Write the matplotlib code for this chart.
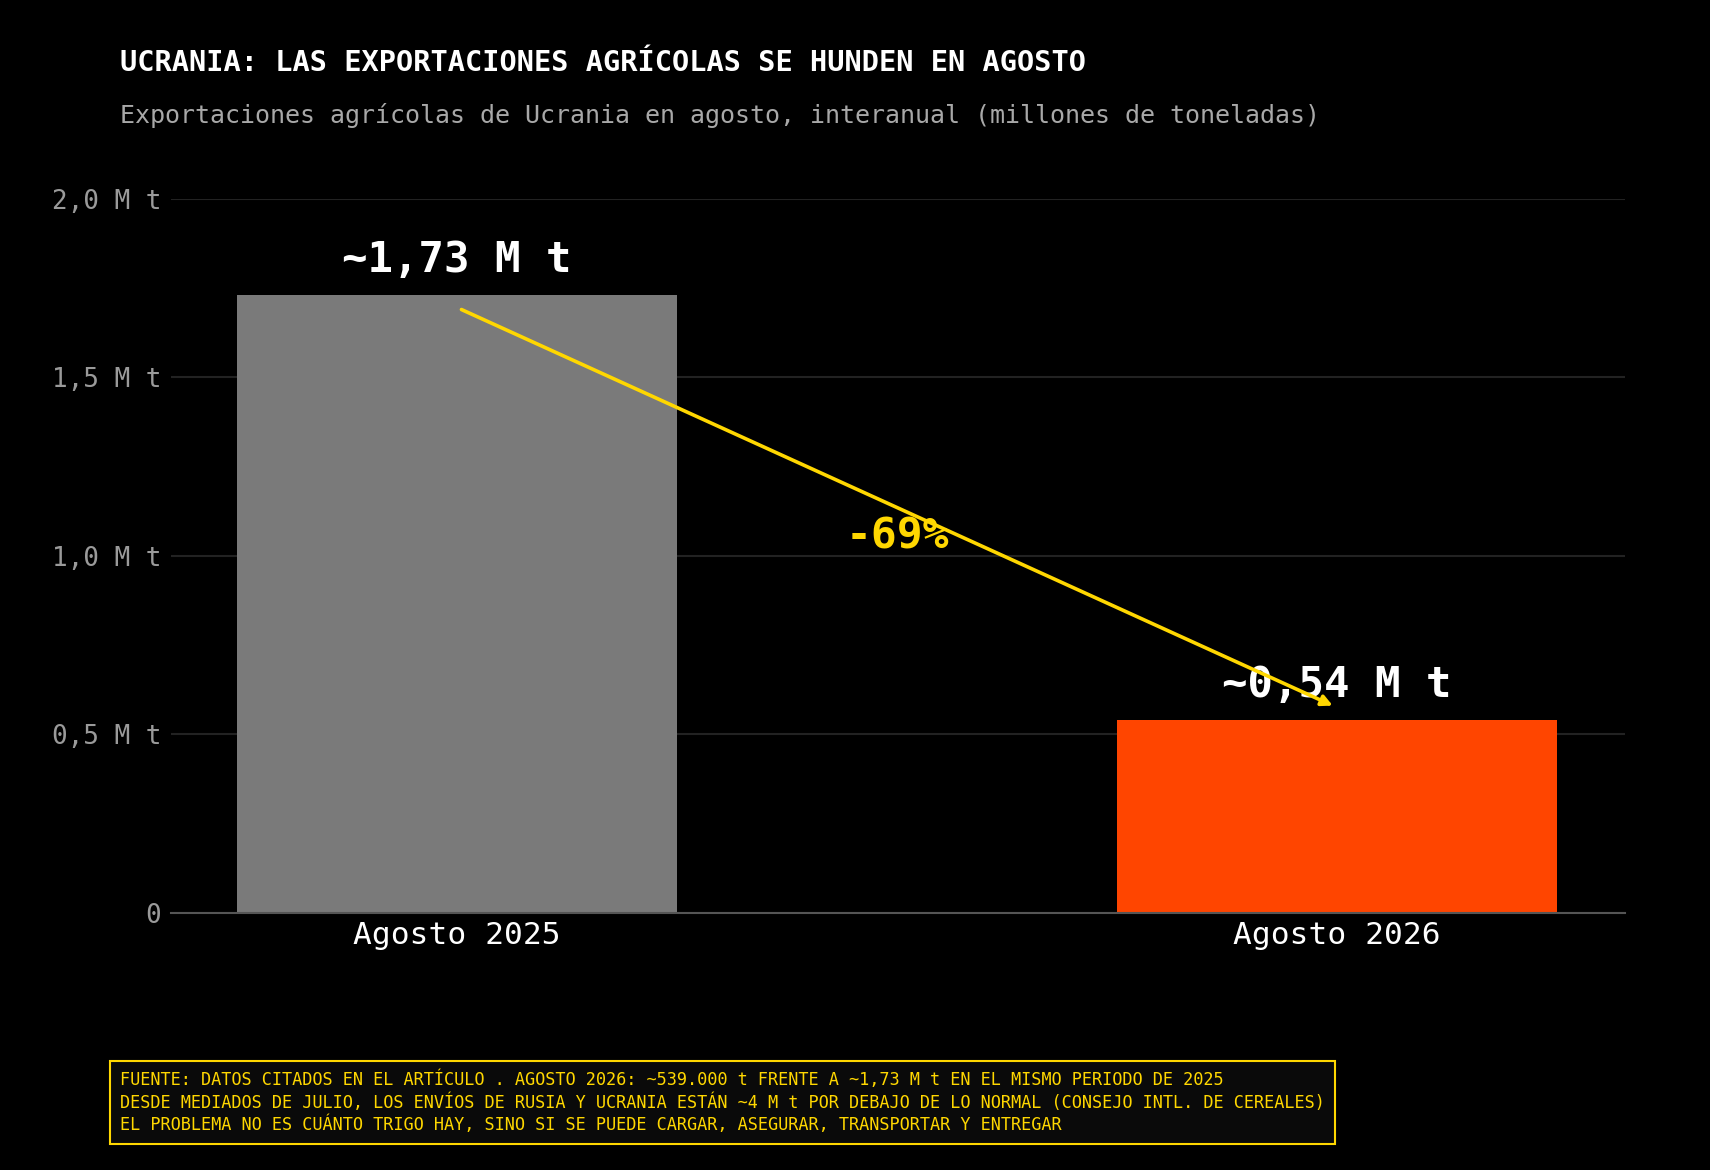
import matplotlib.pyplot as plt

# Data
categories = ["Agosto 2025", "Agosto 2026"]
values = [1.73, 0.54]
value_labels = ["~1,73 M t", "~0,54 M t"]
change_label = "-69%"
ytick_values = [0, 0.5, 1.0, 1.5, 2.0]
ytick_labels = ["0", "0,5 M t", "1,0 M t", "1,5 M t", "2,0 M t"]

title = "UCRANIA: LAS EXPORTACIONES AGRÍCOLAS SE HUNDEN EN AGOSTO"
subtitle = "Exportaciones agrícolas de Ucrania en agosto, interanual (millones de toneladas)"
footer = ("FUENTE: DATOS CITADOS EN EL ARTÍCULO . AGOSTO 2026: ~539.000 t FRENTE A ~1,73 M t EN EL MISMO PERIODO DE 2025\n"
          "DESDE MEDIADOS DE JULIO, LOS ENVÍOS DE RUSIA Y UCRANIA ESTÁN ~4 M t POR DEBAJO DE LO NORMAL (CONSEJO INTL. DE CEREALES)\n"
          "EL PROBLEMA NO ES CUÁNTO TRIGO HAY, SINO SI SE PUEDE CARGAR, ASEGURAR, TRANSPORTAR Y ENTREGAR")

GOLD = "#FFD700"
bar_colors = ["#7a7a7a", "#FF4500"]

plt.rcParams['font.family'] = ['DejaVu Sans Mono', 'DejaVu Sans']

fig = plt.figure(figsize=(17.1, 11.7), dpi=100, facecolor="black")
ax = fig.add_axes([0.100, 0.220, 0.850, 0.610])
ax.set_facecolor("black")

x = list(range(len(categories)))
ax.bar(x, values, width=0.5, color=bar_colors, zorder=2)

ax.set_xlim(-0.325, 1.3265)
ax.set_ylim(0, 2.0)
ax.set_yticks(ytick_values)
ax.set_yticklabels(ytick_labels)
ax.set_xticks(x)
ax.set_xticklabels(categories)
ax.tick_params(axis="y", length=0, pad=7, labelsize=18.7, labelcolor="#9a9a9a")
ax.tick_params(axis="x", length=0, pad=6, labelsize=22.5, labelcolor="white")
ax.yaxis.grid(True, color="#222222", linewidth=1.5, zorder=0)
ax.set_axisbelow(True)
for side in ["top", "right", "left"]:
    ax.spines[side].set_visible(False)
ax.spines["bottom"].set_color("#555555")
ax.spines["bottom"].set_linewidth(1.5)
ax.spines["bottom"].set_zorder(3)

# value labels above bars
for xi, v, lab in zip(x, values, value_labels):
    ax.text(xi, v + 0.04, lab, ha="center", va="bottom", color="white",
            fontsize=30.5, fontweight="bold", zorder=4)

# decline arrow
ax.annotate("", xy=(x[1] - 0.005, values[1] + 0.04), xytext=(x[0] + 0.005, values[0] - 0.04),
            arrowprops=dict(arrowstyle="-|>", color=GOLD, lw=2.6,
                            mutation_scale=16, shrinkA=0, shrinkB=0),
            zorder=5)
ax.text((x[0] + x[1]) / 2, (values[0] + values[1]) / 2 - 0.08, change_label,
        ha="center", va="center", color=GOLD, fontsize=31, fontweight="bold", zorder=4)

fig.text(0.0702, 0.9394, title, color="white", fontsize=20.65, fontweight="bold",
         ha="left", va="baseline")
fig.text(0.0702, 0.8947, subtitle, color="#a8a8a8", fontsize=18,
         ha="left", va="baseline")

fig.text(0.0702, 0.0578, footer, color=GOLD, fontsize=12.15, ha="left", va="center",
         linespacing=1.25,
         bbox=dict(boxstyle="square,pad=0.6", facecolor="#0a0a0a", edgecolor=GOLD, linewidth=1.5))

fig.savefig("out.png", dpi=100, facecolor="black")
